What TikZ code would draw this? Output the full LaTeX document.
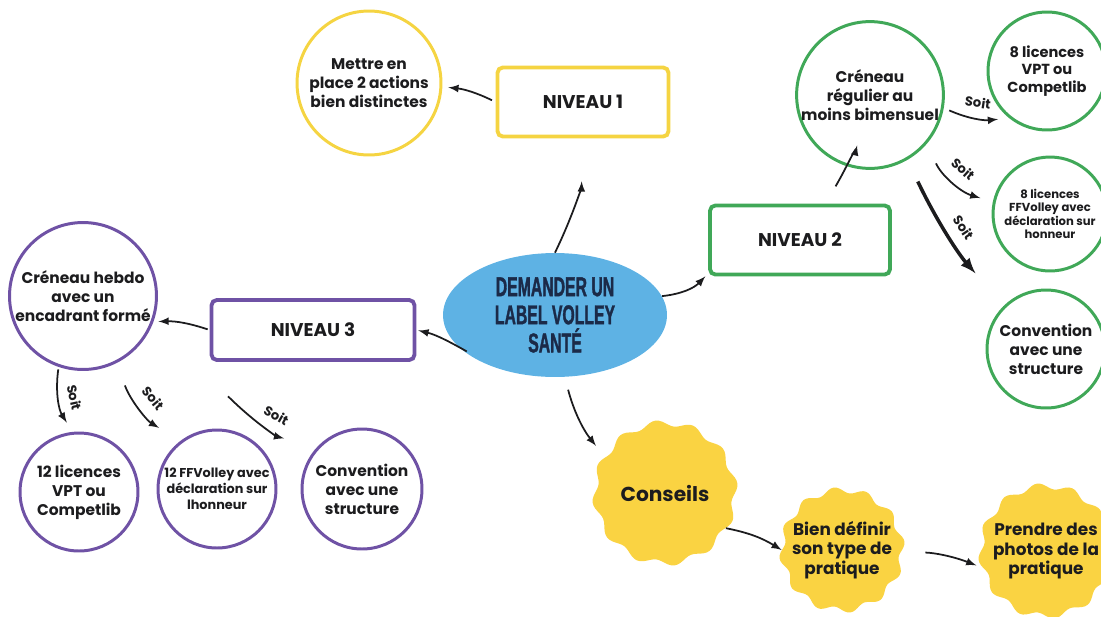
\documentclass[tikz,border=0pt]{standalone}
\usepackage{fontspec}
\setmainfont{Poppins}
\newfontfamily\headfont[FakeStretch=0.58, FakeBold=1.2]{Liberation Sans}
\usetikzlibrary{shapes.geometric, calc}
\definecolor{ink}{RGB}{28,28,30}
\definecolor{navy}{RGB}{27,42,72}
\definecolor{skyblue}{RGB}{94,178,228}
\definecolor{sunyellow}{RGB}{245,212,66}
\definecolor{blobyellow}{RGB}{250,211,66}
\definecolor{leafgreen}{RGB}{64,168,88}
\definecolor{grape}{RGB}{111,82,165}
\newcommand{\wavyblob}[3]{\fill[blobyellow] plot[smooth cycle, domain=0:357.5, samples=144] ({#1+(#3+3*sin(12*\x))*cos(\x)}, {#2+(#3+3*sin(12*\x))*sin(\x)});}
\begin{document}
\begin{tikzpicture}[x=0.02cm, y=0.02cm,
    bubble/.style={circle, draw, line width=1.7pt, align=center, inner sep=0pt, text=ink, font=\bfseries\fontsize{8.8}{10.8}\selectfont},
    levelbox/.style={draw, rounded corners=3pt, line width=2.2pt, text=ink, font=\bfseries\fontsize{10.5}{12}\selectfont},
    tip/.style={circle, inner sep=0pt, align=center, text=ink, font=\bfseries\fontsize{9.6}{11}\selectfont},
    link/.style={-latex, line width=1pt, draw=ink},
    soit/.style={font=\bfseries\fontsize{7.5}{8}\selectfont, text=ink, sloped, above=2pt}]
    \useasboundingbox (0,0) rectangle (1101,-616);
    \node[ellipse, fill=skyblue, minimum width=4.48cm, minimum height=2.48cm, align=center, text=navy, font=\headfont\bfseries\fontsize{15.5}{16}\selectfont] (label) at (555,-315) {DEMANDER UN\\LABEL VOLLEY\\SANTÉ};
    \node[levelbox, draw=sunyellow, minimum width=3.42cm, minimum height=1.38cm] (niv1) at (583,-102) {NIVEAU 1};
    \node[bubble, draw=sunyellow, minimum size=2.88cm] (actions) at (369,-83) {Mettre en\\place 2 actions\\bien distinctes};
    \node[levelbox, draw=leafgreen, minimum width=3.6cm, minimum height=1.38cm] (niv2) at (800,-240) {NIVEAU 2};
    \node[bubble, draw=leafgreen, minimum size=2.68cm] (regular) at (870,-95) {Créneau\\régulier au\\moins bimensuel};
    \node[bubble, draw=leafgreen, minimum size=2.36cm, font=\bfseries\fontsize{8.3}{10}\selectfont] (vpt8) at (1047,-71) {8 licences\\VPT ou\\Competlib};
    \node[bubble, draw=leafgreen, minimum size=2.28cm, font=\bfseries\fontsize{6.6}{7.6}\selectfont] (ffv8) at (1050,-214) {8 licences\\FFVolley avec\\déclaration sur\\honneur};
    \node[bubble, draw=leafgreen, minimum size=2.36cm] (conv2) at (1046,-349) {Convention\\avec une\\structure};
    \node[levelbox, draw=grape, minimum width=4.06cm, minimum height=1.2cm] (niv3) at (313,-330) {NIVEAU 3};
    \node[bubble, draw=grape, minimum size=2.94cm] (hebdo) at (83,-296) {Créneau hebdo\\avec un\\encadrant formé};
    \node[bubble, draw=grape, minimum size=2.36cm] (vpt12) at (79,-492) {12 licences\\VPT ou\\Competlib};
    \node[bubble, draw=grape, minimum size=2.36cm, font=\bfseries\fontsize{7.3}{9}\selectfont] (ffv12) at (217,-489) {12 FFVolley avec\\déclaration sur\\lhonneur};
    \node[bubble, draw=grape, minimum size=2.4cm] (conv3) at (362,-489) {Convention\\avec une\\structure};
    \wavyblob{665}{-493}{70}
    \wavyblob{842}{-550}{60}
    \wavyblob{1046}{-551}{65}
    \node[tip, minimum size=2.8cm, font=\bfseries\fontsize{11.5}{13}\selectfont] (conseils) at (665,-493) {Conseils};
    \node[tip, minimum size=2.4cm] (define) at (842,-550) {Bien définir\\son type de\\pratique};
    \node[tip, minimum size=2.6cm] (photos) at (1046,-551) {Prendre des\\photos de la\\pratique};
    \draw[link, shorten >=0.86cm] (label.north) to[bend right=12] (niv1.south);
    \draw[link, shorten <=0.08cm, shorten >=0.12cm] (niv1.west) to[bend right=10] (actions.-3);
    \draw[link, shorten >=0.08cm] (label.10) to[bend right=20] (niv2.200);
    \draw[link, shorten <=0.4cm, shorten >=1.04cm] (niv2.55) to[bend right=8] (regular.center);
    \draw[link, shorten <=0.12cm, shorten >=0.22cm] (regular.-10) to[bend right=15] node[soit] {Soit} (vpt8.231);
    \draw[link, shorten <=0.44cm, shorten >=0.26cm] (regular.-40) to[bend right=25] node[soit] {Soit} (ffv8.168);
    \draw[link, line width=2pt, shorten <=0.48cm, shorten >=0.86cm] (regular.-60) to[bend right=8] node[soit] {Soit} (conv2.134);
    \draw[link, shorten <=-0.2cm, shorten >=0.04cm] (label.198) to[bend right=8] (niv3.east);
    \draw[link, shorten <=0.04cm, shorten >=0.1cm] (niv3.west) to[bend right=10] (hebdo.-20);
    \draw[link, shorten <=0.05cm, shorten >=0.22cm] (hebdo.251) to[bend right=20] node[soit] {Soit} (vpt12.96);
    \draw[link, shorten <=0.48cm, shorten >=0.5cm] (hebdo.-63) to[bend right=20] node[soit] {Soit} (ffv12.127);
    \draw[link, shorten >=0.68cm] ($(hebdo)!0.52!(conv3)$) to[bend right=15] node[soit] {Soit} (conv3.137);
    \draw[link, shorten <=0.26cm, shorten >=0.28cm] (label.-81) to[bend right=12] (conseils.149);
    \draw[link] (conseils.-30) to[bend left=10] (define.west);
    \draw[link, shorten <=0.46cm, shorten >=0.14cm] (define.-2) to[bend left=10] (photos.195);
\end{tikzpicture}
\end{document}
